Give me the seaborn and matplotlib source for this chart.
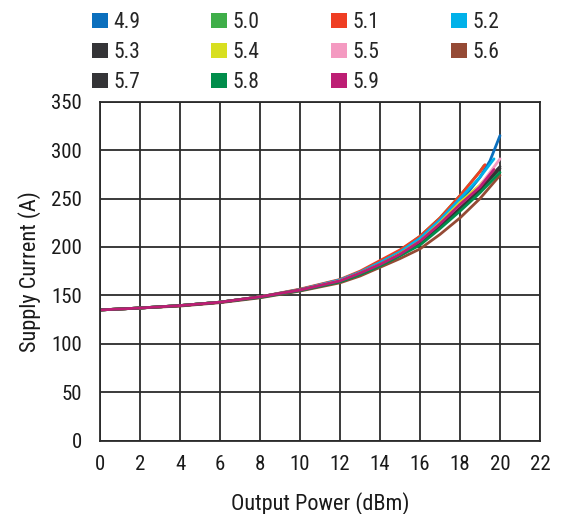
import matplotlib
matplotlib.use("Agg")
import matplotlib.pyplot as plt
from matplotlib.patches import Patch
from matplotlib import font_manager as fm
import seaborn as sns
import pandas as pd

# ---- data ----
series_names = ["4.9", "5.0", "5.1", "5.2", "5.3", "5.4", "5.5", "5.6", "5.7", "5.8", "5.9"]
series_colors = ["#0b6fbd", "#3fae49", "#ef3e23", "#00b1e9", "#343437", "#d8df20",
                 "#f49ac1", "#954a35", "#343437", "#008d4b", "#bd1e74"]

x_common = [0, 2, 4, 6, 8, 10, 12, 13, 14, 15, 16, 17, 18, 19]

x_49 = x_common + [19.5, 20]
y_49 = [135, 137, 139.5, 143, 148.5, 156, 165.5, 173, 183, 194, 207, 225, 246, 272, 289, 315]
x_50 = x_common + [19.2]
y_50 = [135, 137, 139.5, 143, 148.5, 156, 166, 174, 185, 196, 211, 230, 253, 278, 284]
x_51 = x_common + [19.25]
y_51 = [135, 137, 139.5, 143, 148.5, 156.5, 166.5, 175, 186, 197, 211, 230, 253, 278, 285]
x_52 = x_common + [19.7]
y_52 = [135, 137, 139.5, 143, 148.5, 156, 166, 174, 184, 195, 209, 228, 250, 272, 291]
x_53 = x_common + [20]
y_53 = [135, 137, 139.5, 143, 148.5, 155.5, 165, 173, 182, 193, 205, 223, 243, 262, 283]
x_54 = x_common + [19.7]
y_54 = [135, 137, 139.5, 143, 148.5, 155.5, 165, 173, 182, 193, 206, 225, 246, 264, 280]
x_55 = x_common + [20]
y_55 = [135, 137, 139.5, 143, 148.5, 155.5, 165, 172.5, 181.5, 192, 204, 222, 242, 263, 291]
x_56 = x_common + [20]
y_56 = [135, 137, 139, 142.5, 147.5, 154.5, 163, 170, 179, 188, 198, 213, 230, 250, 274]
x_57 = x_common + [20]
y_57 = [135, 137, 139.5, 143, 148.5, 155.5, 164.5, 172, 181, 191.5, 203, 221, 240, 259, 281]
x_58 = x_common + [20]
y_58 = [135, 137, 139.5, 143, 148, 155, 164, 171.5, 180.5, 191, 202, 219, 237, 256, 277]
x_59 = x_common + [19.7]
y_59 = [135, 137, 139.5, 143, 148.5, 155.5, 165, 173, 182, 192.5, 206, 224, 244, 262, 280]

xs = [x_49, x_50, x_51, x_52, x_53, x_54, x_55, x_56, x_57, x_58, x_59]
ys = [y_49, y_50, y_51, y_52, y_53, y_54, y_55, y_56, y_57, y_58, y_59]

x_ticks = [0, 2, 4, 6, 8, 10, 12, 14, 16, 18, 20, 22]
y_ticks = [0, 50, 100, 150, 200, 250, 300, 350]

rows = []
for name, xv, yv in zip(series_names, xs, ys):
    for i, (a, b) in enumerate(zip(xv, yv)):
        rows.append({"series": name, "order": i, "x": a, "y": b})
df = pd.DataFrame(rows)

# ---- style ----
sns.set_theme(style="white")

# pick a condensed font if one is available
font_fp = None
for fam, stretch in [("Roboto Condensed", "normal"), ("Liberation Sans Narrow", "normal"),
                     ("DejaVu Sans", "condensed"), ("Noto Sans", "condensed")]:
    try:
        fp = fm.FontProperties(family=fam, stretch=stretch)
        path = fm.findfont(fp, fallback_to_default=False)
        low = path.lower()
        if "condensed" in low or "narrow" in low:
            font_fp = fm.FontProperties(fname=path)
            break
    except Exception:
        pass

if font_fp is not None:
    fm.fontManager.addfont(font_fp.get_file())
    fam_name = fm.FontProperties(fname=font_fp.get_file()).get_name()
    plt.rcParams["font.family"] = [fam_name, "DejaVu Sans"]
    tick_fs, lab_fs, leg_fs = 15, 16, 15.5
else:
    plt.rcParams["font.family"] = ["Liberation Sans", "DejaVu Sans"]
    tick_fs, lab_fs, leg_fs = 14, 15, 15

W, H = 561, 514
fig = plt.figure(figsize=(W / 100, H / 100), dpi=100)
ax = fig.add_axes([100 / W, (H - 440.7) / H, 440 / W, 339 / H])

sns.lineplot(data=df, x="x", y="y", hue="series", hue_order=series_names,
             palette=dict(zip(series_names, series_colors)), sort=False,
             estimator=None, units="series", linewidth=2.0, legend=False, ax=ax)

ax.set_xlim(0, 22)
ax.set_ylim(0, 350)
ax.set_xticks(x_ticks)
ax.set_yticks(y_ticks)
ax.grid(True, color="#2b2b2b", linewidth=1.3)
ax.set_axisbelow(True)
for s in ax.spines.values():
    s.set_color("#2b2b2b")
    s.set_linewidth(1.3)
ax.tick_params(axis="both", length=0, labelsize=tick_fs, colors="#1a1a1a")
ax.tick_params(axis="x", pad=10)
ax.tick_params(axis="y", pad=13)
ax.set_xlabel("Output Power (dBm)", fontsize=lab_fs, color="#1a1a1a", labelpad=13)
ax.set_ylabel("Supply Current (A)", fontsize=lab_fs, color="#1a1a1a", labelpad=7)

# legend: four columns, each anchored at its own x position
col_x = [92, 211, 331, 451]
col_members = [[0, 4, 8], [1, 5, 9], [2, 6, 10], [3, 7]]
for cx, members in zip(col_x, col_members):
    handles = [Patch(facecolor=series_colors[i], edgecolor="none") for i in members]
    labels = [series_names[i] for i in members]
    fig.legend(handles, labels, ncol=1, loc="upper left",
               bbox_to_anchor=(cx / W, 1 - 12 / H), frameon=False,
               fontsize=leg_fs, handlelength=0.75, handleheight=0.75,
               handletextpad=0.25, labelspacing=0.42,
               borderaxespad=0, borderpad=0)

fig.savefig("out.png", dpi=100)
